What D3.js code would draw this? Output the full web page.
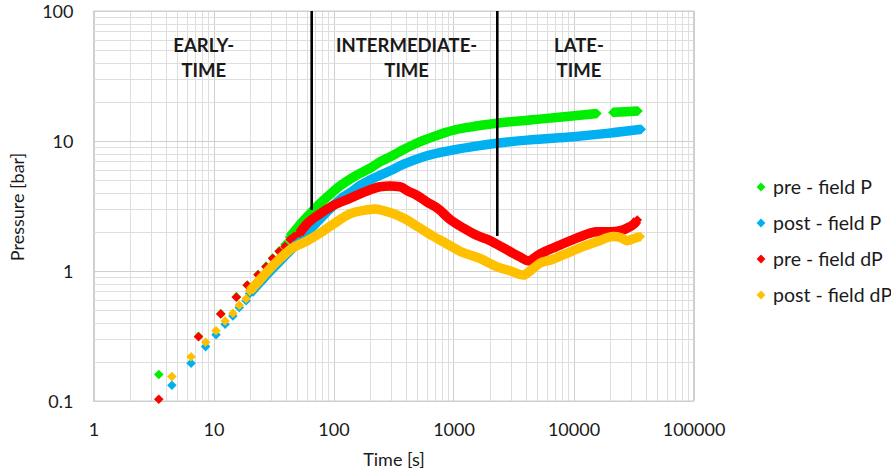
<!DOCTYPE html>
<html>
<head>
<meta charset="utf-8">
<script src="https://cdn.jsdelivr.net/npm/d3@7"></script>
<style>
  body { margin: 0; background: #fff; }
  text { font-family: Lato, "Open Sans", sans-serif; fill: #1a1a1a; }
</style>
</head>
<body>
<div id="chart"></div>
<script>
// [time s, pressure bar]; null = gap in the record
var prePressure = [[3.5,0.16],[7.5,0.315],[11.5,0.47],[15.5,0.635],[19.1,0.78],[23.5,0.94],[27.4,1.09],
    [31.1,1.26],[35.3,1.43],[39.4,1.6],[43,1.82],[47,2.0],[52,2.25],[60,2.6],[77,3.3],[100,4.1],
    [113,4.5],[150,5.35],[200,6.15],[244,6.9],[300,7.6],[380,8.55],[462,9.35],[560,10.1],[700,10.9],
    [850,11.6],[1000,12.1],[1300,12.7],[1700,13.2],[2290,13.7],[4340,14.5],[8000,15.3],[15700,16.3],
    null,[21300,16.6],[27000,16.8],[34500,17.0]];
var postPressure = [[4.5,0.132],[6.5,0.195],[8.6,0.262],[10.5,0.324],[12.5,0.39],[14.5,0.45],[16.4,0.525],
    [18.7,0.59],[20,0.67],[25,0.84],[30,1.01],[36,1.2],[43,1.42],[52,1.7],[60,1.97],[77,2.5],[100,3.2],
    [120,3.7],[137,4.0],[170,4.6],[200,5.0],[250,5.5],[296,5.9],[380,6.6],[462,7.1],[600,7.7],[800,8.2],
    [1000,8.55],[1500,9.1],[2290,9.6],[4340,10.2],[10000,10.8],[20000,11.5],[36700,12.3]];
var preDerivative = [[3.5,0.103],[7.5,0.312],[11.5,0.467],[15.5,0.628],[19.1,0.776],[23.5,0.937],[27.4,1.08],
    [31.1,1.25],[35.3,1.41],[39.4,1.54],[43.4,1.75],[47,1.85],[52,1.95],[60,2.3],[77,2.75],[100,3.2],
    [137,3.62],[200,4.2],[244,4.45],[296,4.5],[358,4.45],[420,4.1],[490,3.84],[600,3.4],[750,3.0],
    [931,2.5],[1200,2.15],[1540,1.89],[2000,1.72],[2290,1.61],[3000,1.4],[3600,1.28],[4200,1.2],
    [5260,1.35],[7200,1.54],[10000,1.75],[13600,1.95],[15600,2.0],[20200,2.0],[25000,2.05],[29400,2.19],
    [32000,2.3],[34000,2.47]];
var postDerivative = [[4.5,0.154],[6.5,0.219],[8.6,0.283],[10.5,0.347],[12.5,0.413],[14.5,0.473],[16.4,0.545],
    [18.7,0.612],[20,0.7],[25,0.88],[30,1.06],[36,1.25],[43,1.45],[52,1.6],[60,1.7],[77,1.95],[100,2.3],
    [137,2.75],[188,2.95],[220,3.0],[300,2.8],[400,2.5],[500,2.2],[677,1.85],[877,1.62],[1130,1.42],
    [1660,1.25],[2290,1.08],[3000,1.0],[3820,0.93],[4340,1.0],[5260,1.15],[6360,1.21],[8200,1.33],
    [12000,1.54],[15600,1.68],[21400,1.84],[25000,1.8],[27800,1.71],[32000,1.78],[36000,1.84]];

// time from which each series is logged densely (drawn as a solid band)
var denseFrom = [43, 20, 52, 20];
var seriesNames = ["pre - field P", "post - field P", "pre - field dP", "post - field dP"];
var seriesColors = ["#00ee00", "#00b0f0", "#ff0000", "#ffc000"];
var seriesData = [prePressure, postPressure, preDerivative, postDerivative];

var xTicks = [1, 10, 100, 1000, 10000, 100000];
var yTicks = [0.1, 1, 10, 100];

// flow-regime boundaries: time, bottom pressure of the marker line
var boundaryTimes = [65.8, 2317];
var boundaryBottoms = [2.95, 1.86];
var regionLabels = [["EARLY-", "TIME"], ["INTERMEDIATE-", "TIME"], ["LATE-", "TIME"]];
var regionCentres = [8.3, 407, 11100];

var W = 891, H = 474;
var plotL = 93.5, plotR = 693.5, plotT = 11, plotB = 401;

var svg = d3.select("#chart").append("svg")
    .attr("width", W)
    .attr("height", H);

var x = d3.scaleLog().domain([1, 100000]).range([plotL, plotR]);
var y = d3.scaleLog().domain([0.1, 100]).range([plotB, plotT]);

// grid
var grid = svg.append("g");
grid.selectAll(".vx")
    .data(x.ticks())
    .enter().append("line")
    .attr("x1", function (d) { return Math.round(x(d)) + 0.5; })
    .attr("x2", function (d) { return Math.round(x(d)) + 0.5; })
    .attr("y1", plotT).attr("y2", plotB)
    .attr("stroke", function (d) { return xTicks.indexOf(d) >= 0 ? "#cfcfcf" : "#dedede"; })
    .attr("stroke-width", 1);
grid.selectAll(".hy")
    .data(y.ticks())
    .enter().append("line")
    .attr("y1", function (d) { return Math.round(y(d)) + 0.5; })
    .attr("y2", function (d) { return Math.round(y(d)) + 0.5; })
    .attr("x1", plotL).attr("x2", plotR)
    .attr("stroke", function (d) { return yTicks.indexOf(d) >= 0 ? "#cfcfcf" : "#dedede"; })
    .attr("stroke-width", 1);
svg.append("rect")
    .attr("x", plotL).attr("y", plotT)
    .attr("width", plotR - plotL).attr("height", plotB - plotT)
    .attr("fill", "none").attr("stroke", "#cfcfcf");

// axes, labels only
var xAxis = d3.axisBottom(x).tickValues(xTicks).tickSize(0).tickFormat(function (d) { return String(d); });
var gx = svg.append("g")
    .attr("transform", "translate(0," + plotB + ")")
    .call(xAxis);
gx.select(".domain").remove();
gx.selectAll("text").attr("dy", 0).attr("y", 35).style("font-size", "18px").style("font-family", "Lato").style("fill", "#1a1a1a");

var yAxis = d3.axisLeft(y).tickValues(yTicks).tickSize(0).tickFormat(function (d) { return String(d); });
var gy = svg.append("g")
    .attr("transform", "translate(" + (plotL - 20) + ",0)")
    .call(yAxis);
gy.select(".domain").remove();
gy.selectAll("text").attr("x", 0).attr("dy", "0.35em").style("font-size", "18px").style("font-family", "Lato").style("fill", "#1a1a1a");

svg.append("text")
    .attr("x", 394).attr("y", 466)
    .attr("text-anchor", "middle")
    .style("font-size", "18px")
    .text("Time [s]");
svg.append("text")
    .attr("transform", "translate(24,207) rotate(-90)")
    .attr("text-anchor", "middle")
    .style("font-size", "18px")
    .text("Pressure [bar]");

// series
var diamond = d3.symbol().type(d3.symbolDiamond2).size(58);
seriesData.forEach(function (data, i) {
    var g = svg.append("g");
    var dense = data.map(function (d) { return d && d[0] >= denseFrom[i] ? d : (d === null ? null : undefined); })
        .filter(function (d) { return d !== undefined; });
    var line = d3.line()
        .defined(function (d) { return d !== null; })
        .x(function (d) { return x(d[0]); })
        .y(function (d) { return y(d[1]); })
        .curve(d3.curveMonotoneX);
    g.append("path")
        .attr("d", line(dense))
        .attr("fill", "none")
        .attr("stroke", seriesColors[i])
        .attr("stroke-width", 9.5);
    g.selectAll("path.pt")
        .data(data.filter(function (d) { return d !== null; }))
        .enter().append("path")
        .attr("class", "pt")
        .attr("d", diamond)
        .attr("transform", function (d) { return "translate(" + x(d[0]) + "," + y(d[1]) + ")"; })
        .attr("fill", seriesColors[i]);
});

// regime boundaries
boundaryTimes.forEach(function (t, i) {
    svg.append("line")
        .attr("x1", x(t)).attr("x2", x(t))
        .attr("y1", y(100)).attr("y2", y(boundaryBottoms[i]))
        .attr("stroke", "#000").attr("stroke-width", 2.6);
});
regionLabels.forEach(function (lines, i) {
    var t = svg.append("text")
        .attr("text-anchor", "middle")
        .style("font-size", "18.5px")
        .style("font-weight", "bold");
    lines.forEach(function (s, j) {
        t.append("tspan").attr("x", x(regionCentres[i])).attr("y", 52 + j * 25).text(s);
    });
});

// legend
var legend = svg.append("g");
seriesNames.forEach(function (name, i) {
    var yy = 187 + i * 36;
    legend.append("path")
        .attr("d", d3.symbol().type(d3.symbolDiamond2).size(50))
        .attr("transform", "translate(761," + yy + ")")
        .attr("fill", seriesColors[i]);
    legend.append("text")
        .attr("x", 773).attr("y", yy)
        .attr("dy", "0.35em")
        .style("font-size", "19.5px")
        .text(name);
});
</script>
</body>
</html>
